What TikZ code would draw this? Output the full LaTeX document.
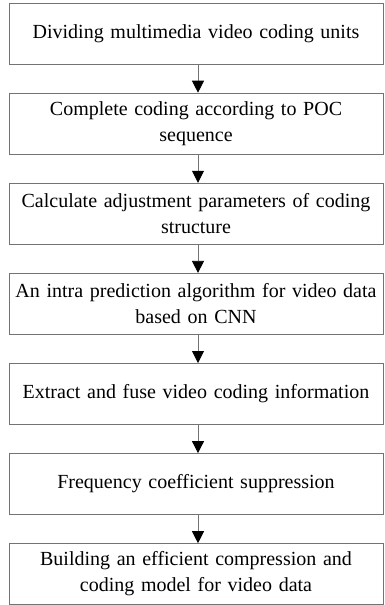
\documentclass[tikz,border=0pt]{standalone}
\usepackage{fontspec}
\setmainfont{Liberation Serif}
\usetikzlibrary{positioning,arrows.meta}

\tikzset{
  stepbox/.style={draw=gray!90!black, line width=0.8pt, minimum width=374pt,
    minimum height=61pt, text width=368pt, inner sep=0pt, align=center,
    font=\fontsize{20pt}{26pt}\selectfont},
  flow/.style={draw=gray!90!black, line width=0.8pt,
    -{Triangle[width=12pt,length=12pt,color=black]}}
}

\begin{document}
\begin{tikzpicture}[node distance=28.3pt]
            \useasboundingbox (0,0) rectangle (384pt,-605pt);
            \node[stepbox] (divide) at (196pt,-33.5pt) {Dividing multimedia video coding units};
            \node[stepbox, below=of divide] (poc) {Complete coding according to POC\\ sequence};
            \node[stepbox, below=of poc] (adjust) {Calculate adjustment parameters of coding\\ structure};
            \node[stepbox, below=of adjust] (intra) {An intra prediction algorithm for video data\\ based on CNN};
            \node[stepbox, below=of intra] (fuse) {Extract and fuse video coding information};
            \node[stepbox, below=of fuse] (freq) {Frequency coefficient suppression};
            \node[stepbox, below=of freq] (model) {Building an efficient compression and\\ coding model for video data};
            \foreach \a/\b in {divide/poc, poc/adjust, adjust/intra, intra/fuse, fuse/freq, freq/model}
                \draw[flow] ([xshift=2pt]\a.south) -- ([xshift=2pt]\b.north);
        \end{tikzpicture}
\end{document}
